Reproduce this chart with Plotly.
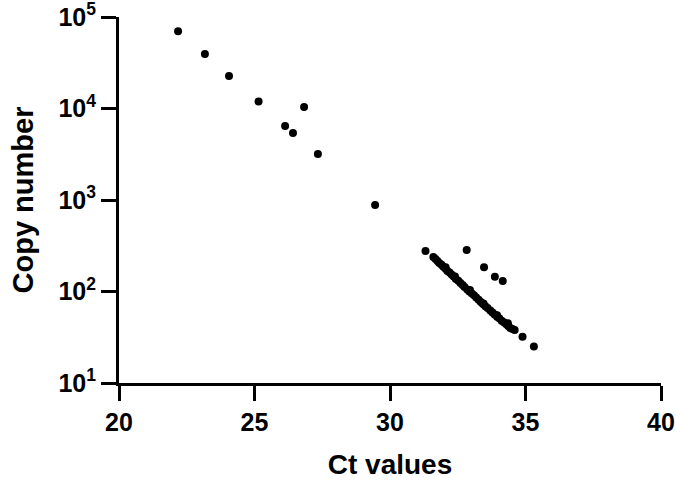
import plotly.graph_objects as go

# Ct values and copy numbers
ct_values = [22.18, 23.17, 24.06, 25.15, 26.13, 26.42, 26.83, 27.34, 29.45,
             31.31, 32.83, 33.47, 33.87, 34.16, 34.89, 35.31,
             31.60, 31.68, 31.75, 31.82, 31.90, 31.97, 32.05, 32.12, 32.20,
             32.28, 32.35, 32.43, 32.52, 32.60, 32.68, 32.75, 32.85, 32.93,
             33.02, 33.10, 33.18, 33.27, 33.35, 33.43, 33.52, 33.60, 33.70,
             33.78, 33.86, 33.95, 34.03, 34.12, 34.20, 34.28, 34.36, 34.44,
             34.52, 34.60,
             32.05, 32.40, 32.95, 33.45, 33.95, 34.35]
copy_numbers = [70000, 39500, 22600, 11900, 6440, 5400, 10400, 3190, 880,
                277, 285, 184, 145, 130, 32, 25,
                238, 227, 216, 205, 196, 186, 177, 167, 161,
                152, 146, 137, 131, 124, 118, 112, 105, 100,
                95, 91, 86, 81, 77, 73, 69, 66, 62,
                59, 56, 53, 51, 48, 46, 44, 42, 40,
                39, 38,
                184, 146, 104, 74, 55, 45]

x_ticks = [20, 25, 30, 35, 40]
x_ticktext = ["20", "25", "30", "35", "40"]
y_tickvals = [10, 100, 1000, 10000, 100000]
y_ticktext = ["10<sup>1</sup>", "10<sup>2</sup>", "10<sup>3</sup>",
              "10<sup>4</sup>", "10<sup>5</sup>"]

font_family = "Liberation Sans"

fig = go.Figure(go.Scatter(
    x=ct_values, y=copy_numbers, mode="markers",
    marker=dict(color="black", size=8, line=dict(width=0)),
    showlegend=False, cliponaxis=False,
))

fig.update_layout(
    width=676, height=481, autosize=False,
    margin=dict(l=119, r=15, t=17, b=98, pad=0),
    plot_bgcolor="white", paper_bgcolor="white",
    font=dict(family=font_family, color="black", size=25, weight="bold"),
)

fig.update_xaxes(
    range=[20, 40], tickvals=x_ticks, ticktext=x_ticktext,
    showline=True, linewidth=3, linecolor="black",
    ticks="outside", ticklen=15, tickwidth=3, tickcolor="black",
    showgrid=False, zeroline=False, automargin=False,
    ticklabeloverflow="allow",
    tickfont=dict(size=25, family=font_family, weight="bold", color="black"),
    title=dict(text="Ct values", standoff=20,
               font=dict(size=28, family=font_family, weight="bold", color="black")),
)

fig.update_yaxes(
    type="log", range=[1, 5], tickvals=y_tickvals, ticktext=y_ticktext,
    showline=True, linewidth=3, linecolor="black",
    ticks="outside", ticklen=15, tickwidth=3, tickcolor="black",
    showgrid=False, zeroline=False, automargin=False,
    ticklabeloverflow="allow",
    tickfont=dict(size=25, family=font_family, weight="bold", color="black"),
    title=dict(text="Copy number", standoff=17,
               font=dict(size=29, family=font_family, weight="bold", color="black")),
)

fig.write_html("out.html", config={"displayModeBar": False},
               post_script="document.body.style.margin='0';")
